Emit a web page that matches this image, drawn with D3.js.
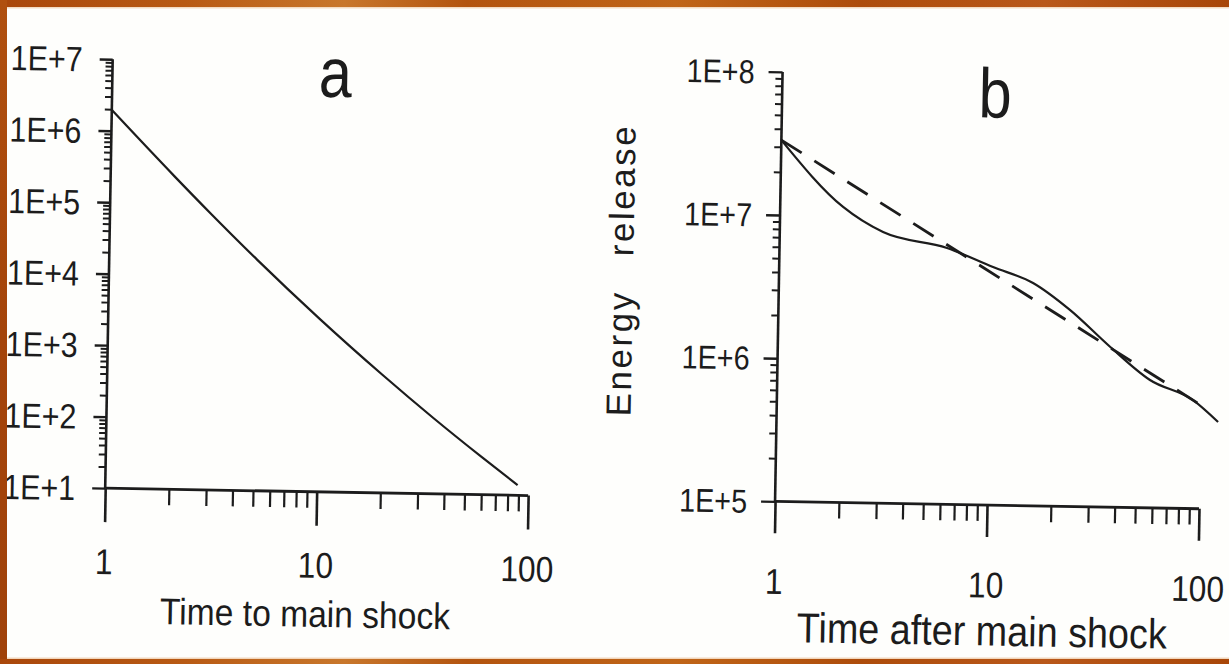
<!DOCTYPE html>
<html><head><meta charset="utf-8">
<script src="https://cdn.jsdelivr.net/npm/d3@7"></script>
<style>html,body{margin:0;padding:0;background:#fff;overflow:hidden}</style>
</head><body>
<svg id="c" width="1229" height="664"></svg>
<script>
// ---------------- data ----------------
const xTickLabels = ["1", "10", "100"];
const aYTickLabels = ["1E+1", "1E+2", "1E+3", "1E+4", "1E+5", "1E+6", "1E+7"];
const bYTickLabels = ["1E+5", "1E+6", "1E+7", "1E+8"];

// panel a: time to main shock vs energy
const aTime   = [1, 2, 3, 5, 10, 20, 35, 60, 89];
const aEnergy = [1.95e6, 2.4e5, 7.3e4, 1.71e4, 2.63e3, 450, 116, 33.5, 13.9];

// panel b: time after main shock vs energy release (observed, solid)
const bTime   = [1, 1.98, 3.07, 6.17, 10.2, 15.8, 23.7, 36.9, 57.3, 91.8, 121];
const bEnergy = [3.34e7, 1.16e7, 7.83e6, 6.17e6, 4.6e6, 3.6e6, 2.36e6, 1.32e6, 7.82e5, 5.73e5, 4.06e5];

// panel b: fitted power law (dashed)
const bFitTime   = [1, 100];
const bFitEnergy = [3.34e7, 5.3e5];

const panelTitles = ["a", "b"];
const xTitles = ["Time to main shock", "Time after main shock"];
const yTitle = "Energy release";

// ---------------- drawing ----------------
const W = 1229, H = 664;
const svg = d3.select("#c");
const ink = "#1c1c1c";
const FONT = "'Liberation Sans', Arial, sans-serif";

svg.append("rect").attr("width", W).attr("height", H).attr("fill", "#fefefc");

const root = svg.append("g").attr("transform", "rotate(1,614,332)")
  .attr("font-family", FONT).attr("fill", ink);

function txt(g, s, x, y, size, opts) {
  opts = opts || {};
  const t = g.append("text").attr("x", x).attr("y", y)
    .attr("font-size", size).attr("text-anchor", opts.anchor || "middle")
    .attr("fill", ink).text(s);
  if (opts.sx || opts.width) {
    const w = t.node().getComputedTextLength();
    const target = opts.width || w * opts.sx;
    t.attr("textLength", target).attr("lengthAdjust", "spacingAndGlyphs");
  }
  return t;
}
const isPow10 = d => Math.abs(Math.log10(d) - Math.round(Math.log10(d))) < 1e-9;

function panel(cfg) {
  const g = root.append("g");
  const x = d3.scaleLog().domain([1, 100]).range(cfg.xr);
  const y = d3.scaleLog().domain(cfg.yd).range(cfg.yr);

  // y axis ticks
  const ya = g.append("g").attr("transform", `translate(${cfg.xr[0]},0)`)
    .call(d3.axisLeft(y).tickValues(y.ticks()).tickSize(cfg.yMinor).tickSizeOuter(0).tickFormat(""));
  ya.select(".domain").remove();
  ya.selectAll(".tick line").attr("stroke", ink).attr("stroke-width", 2)
    .filter(d => isPow10(d)).attr("x2", -cfg.yMajor).attr("stroke-width", 2.4);

  // x axis ticks
  const xa = g.append("g").attr("transform", `translate(0,${cfg.yr[0]})`)
    .call(d3.axisBottom(x).tickValues(x.ticks()).tickSize(cfg.xMinor).tickSizeOuter(0).tickFormat(""));
  xa.select(".domain").remove();
  xa.selectAll(".tick line").attr("stroke", ink).attr("stroke-width", 2.2)
    .filter(d => isPow10(d)).attr("y2", cfg.xMajor).attr("stroke-width", 2.6);

  // axis lines
  g.append("line").attr("x1", x(1)).attr("x2", x(1))
    .attr("y1", y(cfg.yd[1])).attr("y2", y(cfg.yd[0]))
    .attr("stroke", ink).attr("stroke-width", 2.6);
  g.append("line").attr("x1", x(1)).attr("x2", x(100))
    .attr("y1", y(cfg.yd[0])).attr("y2", y(cfg.yd[0]))
    .attr("stroke", ink).attr("stroke-width", 2.8);

  // y tick labels
  cfg.yLabels.forEach(l => {
    const v = Number(l);
    txt(g, l, x(1) - cfg.yLabGap, y(v) + 0.358 * cfg.yLabSize, cfg.yLabSize, {anchor: "end", sx: cfg.yLabSx});
  });
  // x tick labels
  xTickLabels.forEach(l => {
    const v = Number(l);
    txt(g, l, x(v), cfg.xLabBase, cfg.xLabSize, {sx: 0.88});
  });

  const line = d3.line().x(d => x(d[0])).y(d => y(d[1])).curve(d3.curveMonotoneX);
  cfg.series.forEach(s => {
    g.append("path").datum(d3.zip(s.t, s.e)).attr("d", line)
      .attr("fill", "none").attr("stroke", ink).attr("stroke-width", s.w)
      .attr("stroke-dasharray", s.dash || null).attr("stroke-linejoin", "round");
  });
  return {x, y, g};
}

const A = panel({
  xr: [108, 531], yd: [10, 1e7], yr: [497, 68],
  yMinor: 7, yMajor: 13, xMinor: 16, xMajor: 34,
  yLabels: aYTickLabels, yLabGap: 30, yLabSize: 35, yLabSx: 0.87,
  xLabBase: 583, xLabSize: 36,
  series: [{t: aTime, e: aEnergy, w: 2.2}]
});
const B = panel({
  xr: [778, 1202], yd: [1e5, 1e8], yr: [498.5, 69],
  yMinor: 7, yMajor: 14, xMinor: 16, xMajor: 32,
  yLabels: bYTickLabels, yLabGap: 28, yLabSize: 33, yLabSx: 0.87,
  xLabBase: 591, xLabSize: 36,
  series: [{t: bTime, e: bEnergy, w: 2.2}, {t: bFitTime, e: bFitEnergy, w: 2.8, dash: "24 15"}]
});

// titles
txt(root, panelTitles[0], 331, 102, 70, {sx: 0.85});
txt(root, panelTitles[1], 991, 111, 70, {sx: 0.85});
txt(root, xTitles[0], 310, 632, 37, {width: 290});
txt(root, xTitles[1], 987, 639, 42, {width: 370});
root.append("text").attr("transform", "translate(632,270) rotate(-90)")
  .attr("text-anchor", "middle").attr("font-size", 35).attr("fill", ink)
  .attr("letter-spacing", 2.5).attr("word-spacing", 22).text(yTitle);

// ---------------- frame (orange border) ----------------
const defs = svg.append("defs");
const gTop = defs.append("linearGradient").attr("id", "gt").attr("x1", 0).attr("x2", 1);
[[0, "#a9470b"], [0.15, "#b85a14"], [0.28, "#c8772c"], [0.38, "#b3540f"], [0.55, "#c06518"],
 [0.7, "#ad4c0b"], [0.85, "#b9581a"], [1, "#a84608"]].forEach(s =>
  gTop.append("stop").attr("offset", s[0]).attr("stop-color", s[1]));
const gLeft = defs.append("linearGradient").attr("id", "gl").attr("x1", 0).attr("x2", 0).attr("y1", 0).attr("y2", 1);
[[0, "#b0500f"], [0.5, "#a4440a"], [1, "#a0420a"]].forEach(s =>
  gLeft.append("stop").attr("offset", s[0]).attr("stop-color", s[1]));

svg.append("rect").attr("x", 0).attr("y", 0).attr("width", W).attr("height", 7).attr("fill", "url(#gt)");
svg.append("rect").attr("x", 0).attr("y", 0).attr("width", 7).attr("height", H).attr("fill", "url(#gl)");
svg.append("rect").attr("x", 0).attr("y", 659).attr("width", W).attr("height", 5).attr("fill", "url(#gt)");
svg.append("rect").attr("x", 7).attr("y", 7).attr("width", W - 7).attr("height", 1.5).attr("fill", "#f3dcc4");
svg.append("rect").attr("x", 7).attr("y", 657.5).attr("width", W - 7).attr("height", 1.5).attr("fill", "#f1d6bc");
</script>
</body></html>
